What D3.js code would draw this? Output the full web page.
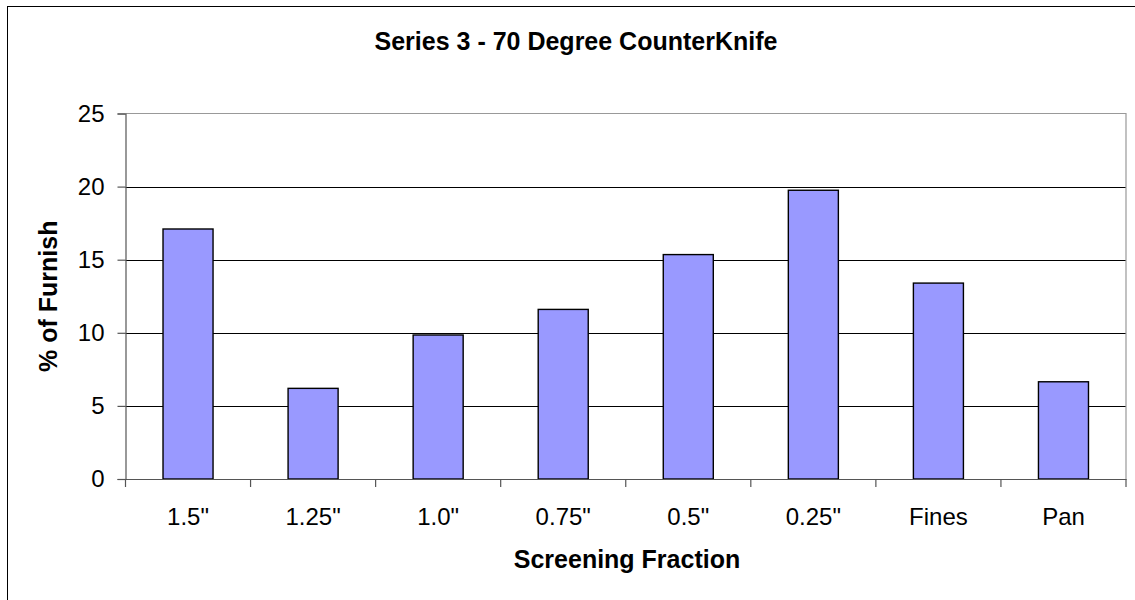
<!DOCTYPE html>
<html>
<head>
<meta charset="utf-8">
<script src="https://cdn.jsdelivr.net/npm/d3@7"></script>
<style>
  html, body { margin: 0; padding: 0; background: #fff; }
  svg { display: block; font-family: Arial, "Liberation Sans", sans-serif; }
</style>
</head>
<body>
<div id="chart"></div>
<script>
// ── Data ──────────────────────────────────────────────────────────────
const categories = ['1.5"', '1.25"', '1.0"', '0.75"', '0.5"', '0.25"', "Fines", "Pan"];
const values     = [17.1, 6.2, 9.85, 11.6, 15.35, 19.75, 13.4, 6.65];
const yTicks     = [0, 5, 10, 15, 20, 25];

const W = 1135, H = 600;
const plot = { left: 125.5, top: 113.5, right: 1126, bottom: 479 };

const svg = d3.select("#chart").append("svg")
  .attr("width", W)
  .attr("height", H);

// Chart-area border (only left/top visible in the crop)
svg.append("rect")
  .attr("x", 7.5).attr("y", 6.5)
  .attr("width", W + 20).attr("height", H + 20)
  .attr("fill", "#fff")
  .attr("stroke", "#000")
  .attr("stroke-width", 1);

const x = d3.scaleBand()
  .domain(categories)
  .range([plot.left, plot.right])
  .paddingInner(0.6)
  .paddingOuter(0.3);

const y = d3.scaleLinear()
  .domain([0, 25])
  .range([plot.bottom, plot.top]);

// ── Gridlines ─────────────────────────────────────────────────────────
svg.append("g")
  .selectAll("line")
  .data(yTicks.filter(d => d > 0 && d < 25))
  .join("line")
    .attr("x1", plot.left).attr("x2", plot.right)
    .attr("y1", d => Math.round(y(d)) + 0.5)
    .attr("y2", d => Math.round(y(d)) + 0.5)
    .attr("stroke", "#000")
    .attr("stroke-width", 1);

// Plot-area frame: grey top/right
svg.append("path")
  .attr("d", `M${plot.left},${plot.top} H${plot.right} V${plot.bottom}`)
  .attr("fill", "none")
  .attr("stroke", "#999")
  .attr("stroke-width", 1.2);

// ── Bars ──────────────────────────────────────────────────────────────
svg.append("g")
  .selectAll("rect")
  .data(values)
  .join("rect")
    .attr("x", (d, i) => x(categories[i]))
    .attr("y", d => y(d))
    .attr("width", x.bandwidth())
    .attr("height", d => plot.bottom - y(d))
    .attr("fill", "#9999FF")
    .attr("stroke", "#000")
    .attr("stroke-width", 1.4);

// ── Axes ──────────────────────────────────────────────────────────────
const yAxis = svg.append("g")
  .attr("transform", `translate(${plot.left},0)`)
  .call(d3.axisLeft(y).tickValues(yTicks).tickSize(8).tickPadding(13));

const xAxis = svg.append("g")
  .attr("transform", `translate(0,${plot.bottom})`)
  .call(d3.axisBottom(x).tickSize(0).tickPadding(29));

// category separator ticks at band edges
const edges = categories.map(c => x(c) - x.step() * x.paddingInner() / 2);
edges.push(plot.right);
edges[0] = plot.left;
xAxis.selectAll(".sep")
  .data(edges)
  .join("line")
    .attr("class", "sep")
    .attr("x1", d => d).attr("x2", d => d)
    .attr("y1", 0).attr("y2", 8)
    .attr("stroke", "#555")
    .attr("stroke-width", 1.2);

[yAxis, xAxis].forEach(g => {
  g.select(".domain").attr("stroke", "#555").attr("stroke-width", 1.2);
  g.selectAll(".tick line").attr("stroke", "#555").attr("stroke-width", 1.2);
  g.selectAll("text")
    .attr("fill", "#000")
    .attr("font-size", "24px")
    .attr("font-family", "Arial, 'Liberation Sans', sans-serif");
});

// ── Titles ────────────────────────────────────────────────────────────
svg.append("text")
  .attr("x", 576).attr("y", 50)
  .attr("text-anchor", "middle")
  .attr("font-size", "25px")
  .attr("font-weight", "bold")
  .text("Series 3 - 70 Degree CounterKnife");

svg.append("text")
  .attr("x", 627).attr("y", 568)
  .attr("text-anchor", "middle")
  .attr("font-size", "25px")
  .attr("font-weight", "bold")
  .text("Screening Fraction");

svg.append("text")
  .attr("transform", `translate(57,${(plot.top + plot.bottom) / 2}) rotate(-90)`)
  .attr("text-anchor", "middle")
  .attr("font-size", "25px")
  .attr("font-weight", "bold")
  .text("% of Furnish");
</script>
</body>
</html>
